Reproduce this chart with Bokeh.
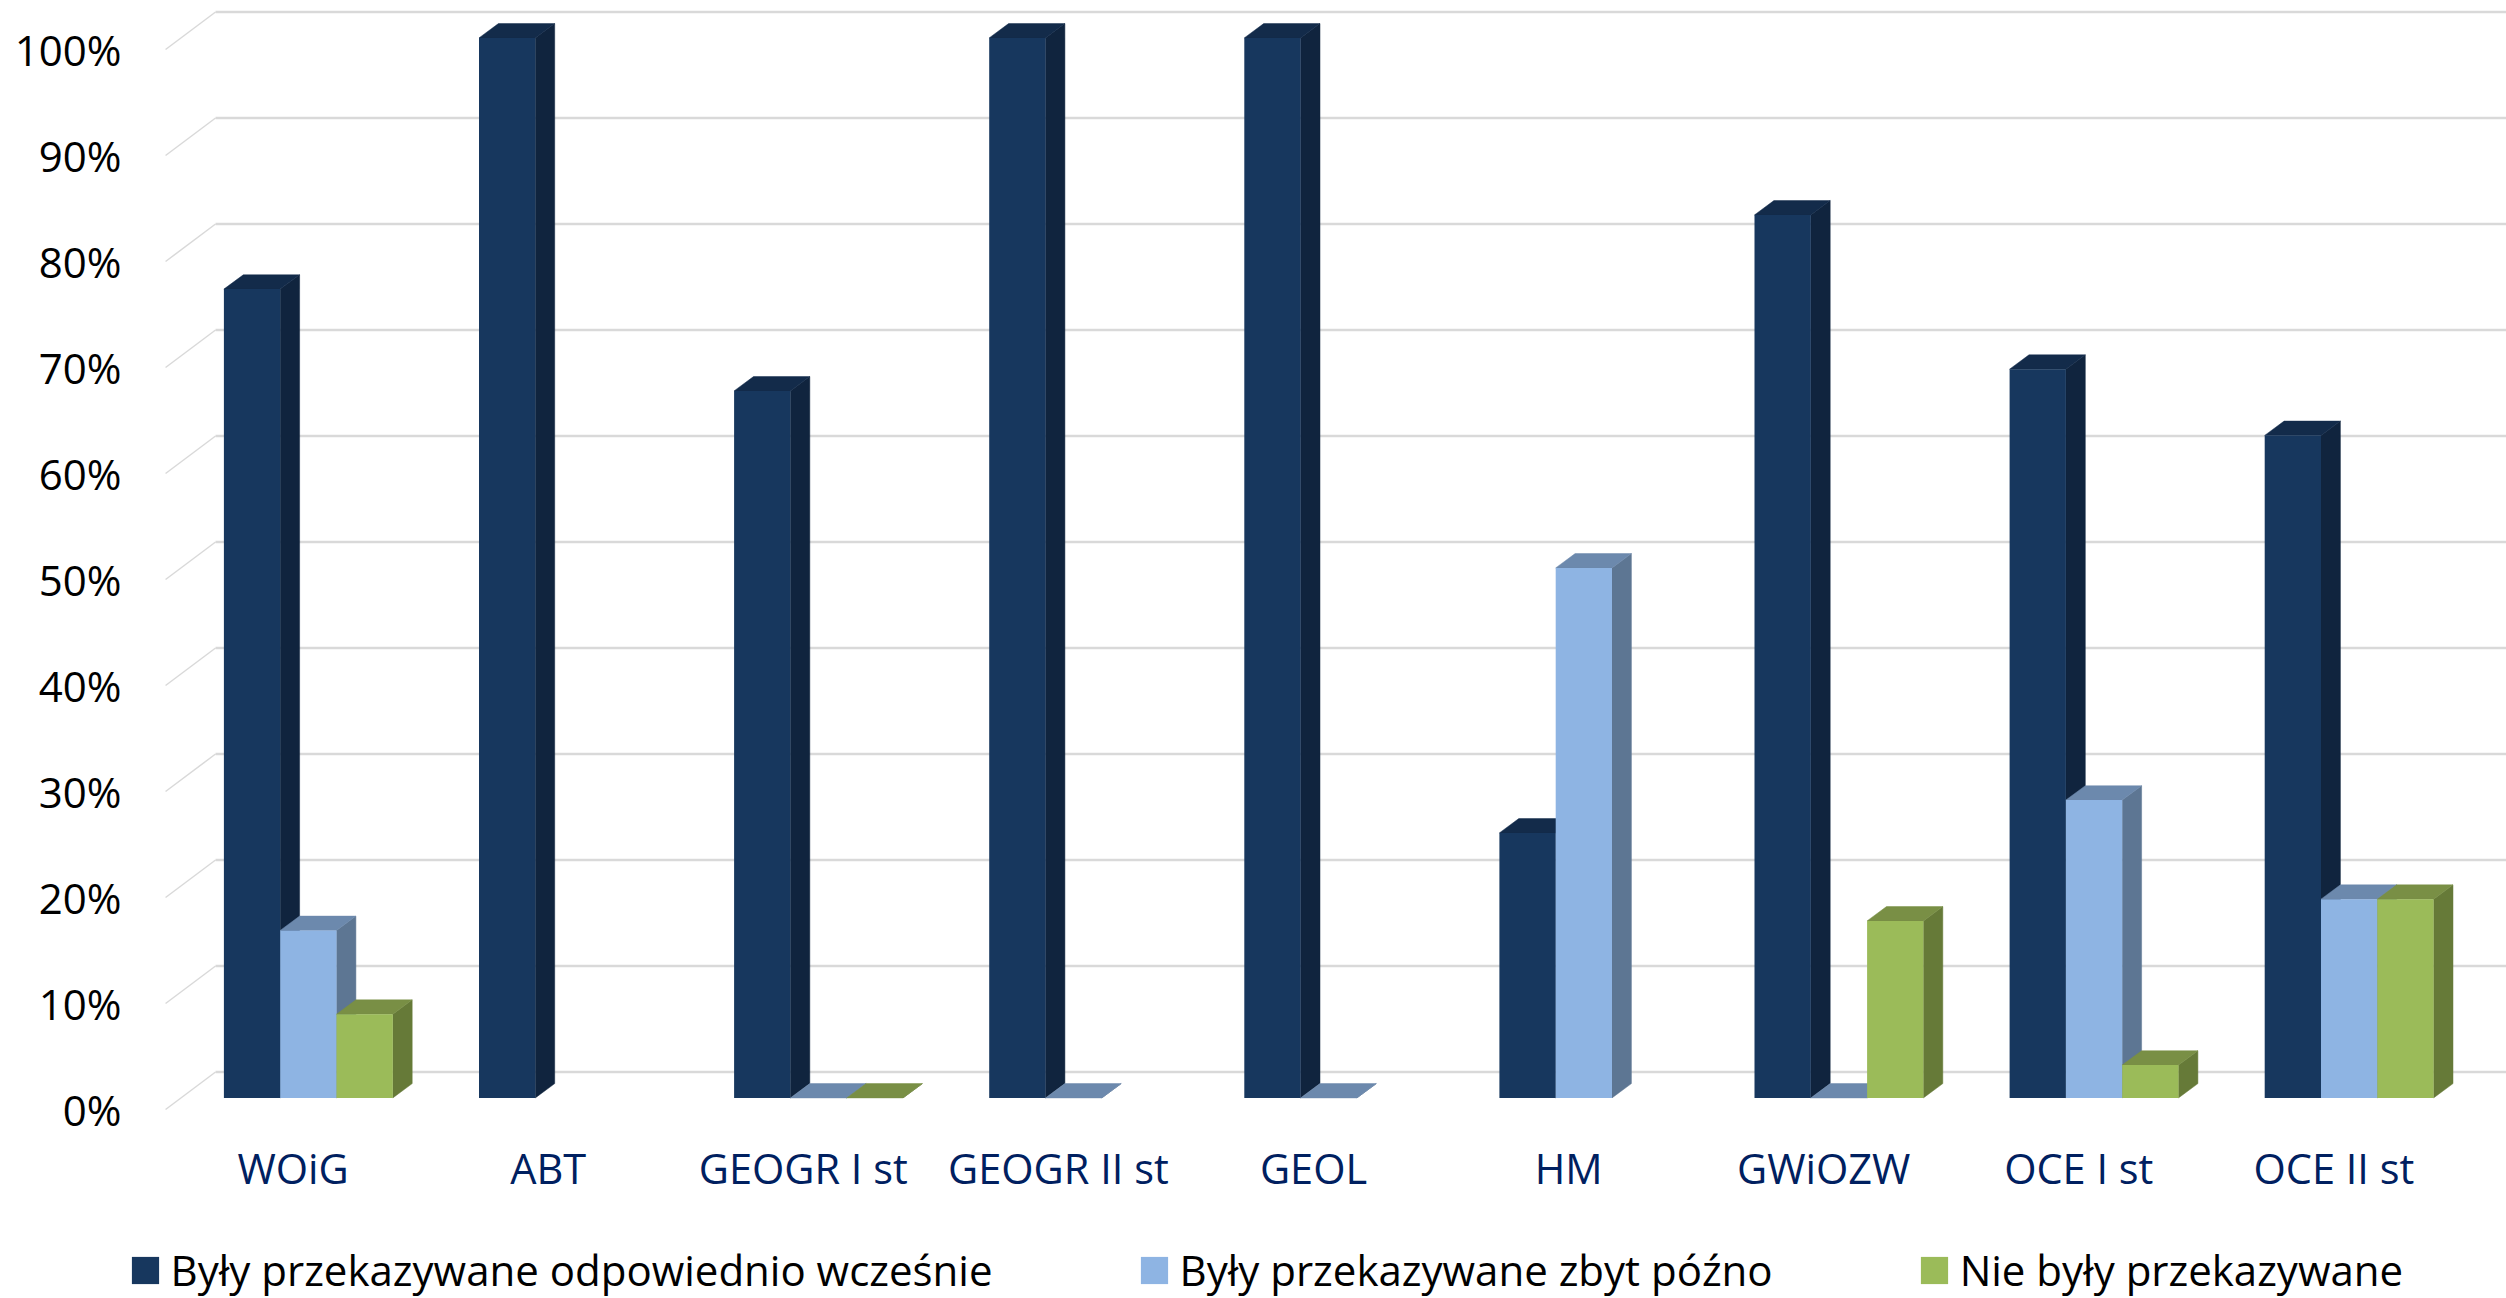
from bokeh.plotting import figure
from bokeh.models import Range1d, FixedTicker, Legend, LegendItem
from bokeh.embed import file_html
from bokeh.resources import INLINE
import numpy as np

nan = float("nan")
categories = ["WOiG", "ABT", "GEOGR I st", "GEOGR II st", "GEOL", "HM", "GWiOZW", "OCE I st", "OCE II st"]
early = [76.3, 100, 66.7, 100, 100, 25, 83.3, 68.75, 62.5]
late = [15.8, nan, 0, 0, 0, 50, 0, 28.1, 18.75]
never = [7.9, nan, 0, nan, nan, nan, 16.7, 3.1, 18.75]
labels = ["Były przekazywane odpowiednio wcześnie", "Były przekazywane zbyt późno", "Nie były przekazywane"]
y_ticks = [0, 10, 20, 30, 40, 50, 60, 70, 80, 90, 100]

FONT = "Open Sans"
PX_X, PX_Y = 255.1, 10.6      # pixels per category, per percent
W, H = 2506, 1298
ZERO_PX, FIRST_PX = 1109, 292.6   # page position of 0% and of the first category
BAR = 56.3 / PX_X
BAR0 = (223.4 - 292.6) / PX_X
DX, DY = 19.4 / PX_X, 14.3 / PX_Y
Y0 = 11.6 / PX_Y
WDX, WDY = 50 / PX_X, 37.5 / PX_Y

p = figure(width=W, height=H, output_backend="svg", toolbar_location=None,
           x_range=Range1d(-FIRST_PX / PX_X, (W - FIRST_PX) / PX_X),
           y_range=Range1d(-(H - ZERO_PX) / PX_Y, ZERO_PX / PX_Y),
           min_border=0, outline_line_color=None,
           background_fill_color="white", border_fill_color="white")
p.grid.visible = False

p.xaxis.fixed_location = 0
p.yaxis.fixed_location = -0.5
p.xaxis.ticker = FixedTicker(ticks=list(range(len(categories))))
p.xaxis.major_label_overrides = {i: c for i, c in enumerate(categories)}
p.xaxis.major_label_text_font = FONT
p.xaxis.major_label_text_font_size = "41.5px"
p.xaxis.major_label_text_color = "#002060"
p.xaxis.major_label_standoff = 24
p.yaxis.ticker = FixedTicker(ticks=y_ticks)
p.yaxis.major_label_overrides = {v: f"{v}%" for v in y_ticks}
p.yaxis.major_label_text_font = FONT
p.yaxis.major_label_text_font_size = "42px"
p.yaxis.major_label_text_color = "black"
p.yaxis.major_label_standoff = 38
for ax in (p.xaxis, p.yaxis):
    ax.axis_line_color = None
    ax.major_tick_line_color = None
    ax.minor_tick_line_color = None

# back wall grid and side-wall diagonals
x_wall = -0.5 + WDX
x_end = p.x_range.end + 1
p.multi_line([[x_wall, x_end] for v in y_ticks], [[v + WDY, v + WDY] for v in y_ticks],
             line_color="#D9D9D9", line_width=2.5)
p.multi_line([[-0.5, x_wall] for v in y_ticks], [[v, v + WDY] for v in y_ticks],
             line_color="#D9D9D9", line_width=1.5)

series = [early, late, never]
front = ["#17375E", "#8EB4E3", "#9BBB59"]
top_c = ["#132B4A", "#6C89AD", "#798F45"]
side = ["#10243E", "#5D7693", "#667A38"]
items = []
for s, vals in enumerate(series):
    xs_side, ys_side, xs_top, ys_top, bars = [], [], [], [], []
    for i, v in enumerate(vals):
        if np.isnan(v):
            continue
        l = i + BAR0 + s * BAR
        r = l + BAR
        t = v + Y0
        bars.append((l + BAR / 2, t))
        xs_side.append([r, r + DX, r + DX, r])
        ys_side.append([Y0, Y0 + DY, t + DY, t])
        xs_top.append([l, r, r + DX, l + DX])
        ys_top.append([t, t, t + DY, t + DY])
    p.patches(xs_side, ys_side, fill_color=side[s], line_color=side[s], line_width=0.5)
    p.patches(xs_top, ys_top, fill_color=top_c[s], line_color=top_c[s], line_width=0.5)
    rf = p.vbar(x=[b[0] for b in bars], top=[b[1] for b in bars], bottom=Y0, width=BAR,
                fill_color=front[s], line_color=None)
    items.append(LegendItem(label=labels[s], renderers=[rf]))

legend = Legend(items=items, orientation="horizontal", location=(127.6, 0),
                glyph_width=34, glyph_height=34, label_standoff=9, spacing=144,
                padding=0, margin=0, border_line_color=None, background_fill_color=None,
                background_fill_alpha=0, label_text_font=FONT, label_text_font_size="42px",
                label_text_color="black", label_height=34)
p.add_layout(legend, "center")

open("out.html", "w").write(file_html(p, INLINE))
